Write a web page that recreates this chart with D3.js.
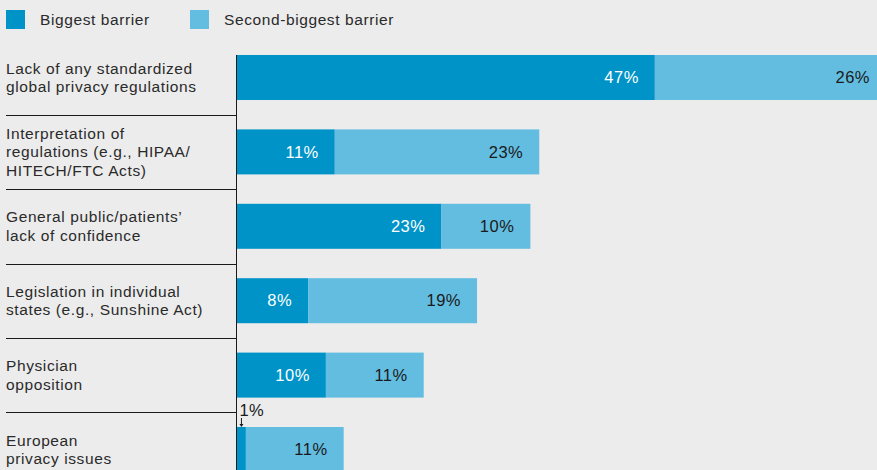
<!DOCTYPE html>
<html>
<head>
<meta charset="utf-8">
<script src="https://cdn.jsdelivr.net/npm/d3@7"></script>
<style>
  html, body { margin: 0; padding: 0; background: #ececec; }
  svg { display: block; font-family: "Liberation Sans", Arial, sans-serif; }
</style>
</head>
<body>
<svg id="chart" width="877" height="470"></svg>
<script>
// Survey categories (each label split into its display lines)
const categories = [
  ["Lack of any standardized", "global privacy regulations"],
  ["Interpretation of", "regulations (e.g., HIPAA/", "HITECH/FTC Acts)"],
  ["General public/patients’", "lack of confidence"],
  ["Legislation in individual", "states (e.g., Sunshine Act)"],
  ["Physician", "opposition"],
  ["European", "privacy issues"]
];
const biggest = [47, 11, 23, 8, 10, 1];
const secondBiggest = [26, 23, 10, 19, 11, 11];
const seriesNames = ["Biggest barrier", "Second-biggest barrier"];
const colors = ["#0093c8", "#63bde0"];

const svg = d3.select("#chart");
const W = 877, H = 470;
const x0 = 237;
const labelFont = 15.5, labelSpacing = 0.6;
const valueFont = 16.5, valueSpacing = 0.5;

const keys = categories.map((c, i) => i);
const x = d3.scaleLinear().domain([0, 73]).range([x0, x0 + 649]);
const y = d3.scaleBand().domain(keys).range([40.3, 486.7])
  .paddingInner(0.395).paddingOuter(0.1975);

// Legend
const legend = svg.append("g");
const legendX = [6, 190];
seriesNames.forEach((name, i) => {
  legend.append("rect").attr("x", legendX[i]).attr("y", 10).attr("width", 19).attr("height", 19)
    .attr("fill", colors[i]);
  legend.append("text").attr("x", legendX[i] + 34).attr("y", 25)
    .attr("font-size", labelFont).attr("letter-spacing", labelSpacing)
    .attr("fill", "#2a2a2a").text(name);
});

// Stacked bars
const rows = keys.map(i => ({ i, a: biggest[i], b: secondBiggest[i] }));
const g = svg.append("g");
rows.forEach(r => {
  const top = y(r.i), bw = y.bandwidth();
  g.append("rect").attr("x", x(0)).attr("y", top).attr("width", x(r.a) - x(0)).attr("height", bw)
    .attr("fill", colors[0]);
  g.append("rect").attr("x", x(r.a)).attr("y", top).attr("width", x(r.a + r.b) - x(r.a)).attr("height", bw)
    .attr("fill", colors[1]);
  if (r.a >= 5) {
    g.append("text").attr("x", x(r.a) - 16).attr("y", top + bw / 2).attr("dy", "0.35em")
      .attr("text-anchor", "end").attr("font-size", valueFont).attr("letter-spacing", valueSpacing)
      .attr("fill", "#ffffff").text(r.a + "%");
  }
  g.append("text").attr("x", x(r.a + r.b) - 16).attr("y", top + bw / 2).attr("dy", "0.35em")
    .attr("text-anchor", "end").attr("font-size", valueFont).attr("letter-spacing", valueSpacing)
    .attr("fill", "#1a1a1a").text(r.b + "%");
});

// Callout for the small segment
const small = rows[5];
const ax = (x(0) + x(small.a)) / 2;
g.append("text").attr("x", ax - 2).attr("y", y(small.i) - 11)
  .attr("font-size", valueFont).attr("letter-spacing", valueSpacing)
  .attr("fill", "#1a1a1a").text(small.a + "%");
g.append("line").attr("x1", ax).attr("x2", ax).attr("y1", y(small.i) - 9).attr("y2", y(small.i) - 1)
  .attr("stroke", "#1a1a1a").attr("stroke-width", 1);
g.append("path").attr("d", `M${ax - 2},${y(small.i) - 3}L${ax + 2},${y(small.i) - 3}L${ax},${y(small.i)}Z`)
  .attr("fill", "#1a1a1a");

// Category labels and separators
const lab = svg.append("g");
const lineH = 18.5;
rows.forEach(r => {
  const lines = categories[r.i];
  const cy = y(r.i) + y.bandwidth() / 2;
  const t = lab.append("text").attr("font-size", labelFont).attr("letter-spacing", labelSpacing)
    .attr("fill", "#2a2a2a");
  lines.forEach((ln, k) => {
    t.append("tspan").attr("x", 6)
      .attr("y", cy + (k - (lines.length - 1) / 2) * lineH).attr("dy", "0.35em").text(ln);
  });
  if (r.i < rows.length - 1) {
    const sy = Math.round(y(r.i) + y.bandwidth() + (y.step() - y.bandwidth()) / 2) + 0.5;
    lab.append("line").attr("x1", 6).attr("x2", x0).attr("y1", sy).attr("y2", sy)
      .attr("stroke", "#1a1a1a").attr("stroke-width", 1);
  }
});

// Vertical baseline
svg.append("line").attr("x1", x0 - 0.5).attr("x2", x0 - 0.5)
  .attr("y1", y(0)).attr("y2", H)
  .attr("stroke", "#1a1a1a").attr("stroke-width", 1);
</script>
</body>
</html>
